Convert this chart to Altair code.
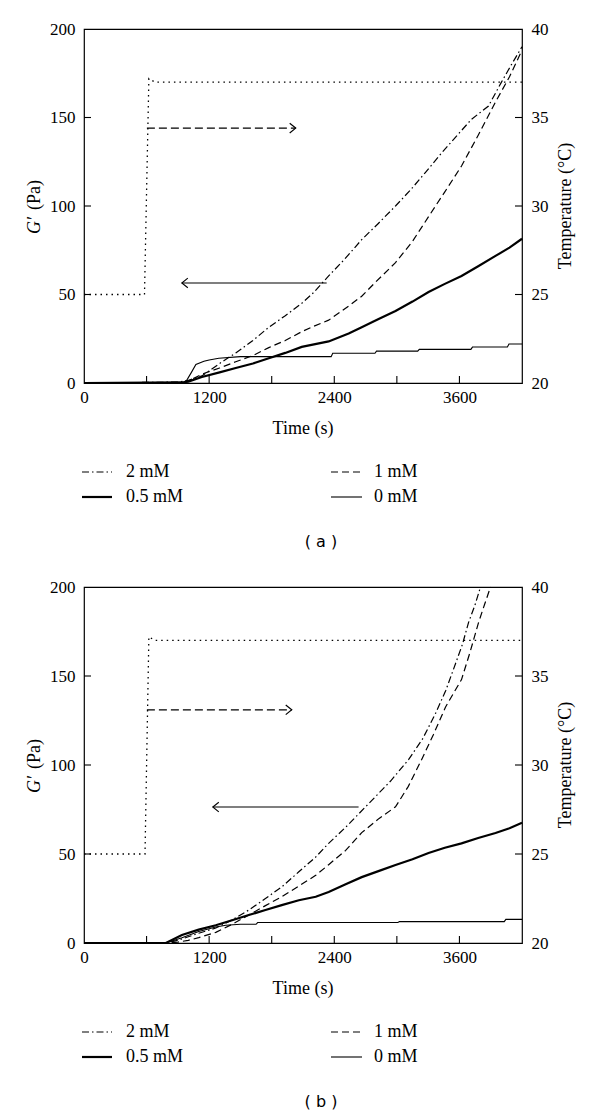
import altair as alt
import pandas as pd

SERIF = "Liberation Serif"
SANS = "DejaVu Sans"
W = 438
H_A = 354
H_B = 356
T_MAX = 4200

# ---- axis / tick values ----
x_tick_labels = [0, 1200, 2400, 3600]
x_minor_ticks = [600, 1200, 1800, 2400, 3000, 3600]
g_tick_labels = [0, 50, 100, 150, 200]
g_minor_ticks = [50, 100, 150]
temp_tick_labels = [20, 25, 30, 35, 40]
temp_minor_ticks = [25, 30, 35]
series_names = ["2 mM", "1 mM", "0.5 mM", "0 mM"]

# ---- panel (a) ----
a_t_2mM = [0, 900, 1000, 1130, 1300, 1455, 1620, 1772, 1930, 2088, 2200, 2346, 2500, 2663, 2820, 2987, 3130, 3275, 3430, 3572, 3716, 3879, 4003, 4100, 4200]
a_g_2mM = [0, 0.5, 1.5, 4, 11, 17, 24, 31.5, 38, 45, 51, 60.5, 70, 81, 90, 100, 109, 119, 130, 139.5, 149, 156.5, 170, 180, 190]
a_t_1mM = [0, 950, 1000, 1130, 1300, 1455, 1620, 1772, 1930, 2088, 2200, 2346, 2538, 2663, 2796, 2987, 3150, 3304, 3460, 3620, 3780, 3946, 4080, 4200]
a_g_1mM = [0, 0.3, 1, 5, 8.5, 12, 15.5, 20, 24, 29, 32, 35.5, 43.5, 49, 57, 68, 80, 94, 108, 122.6, 140, 158.8, 173, 188]
a_t_05mM = [0, 950, 1000, 1130, 1300, 1455, 1620, 1772, 1930, 2088, 2346, 2538, 2663, 2820, 2987, 3150, 3304, 3460, 3620, 3780, 3946, 4080, 4200]
a_g_05mM = [0, 0.3, 0.8, 3.4, 6, 8.5, 11, 14, 17, 20.4, 23.5, 28, 31.5, 36, 40.7, 46, 51.4, 56, 60.5, 66, 71.8, 76.5, 81.5]
a_t_0mM = [0, 950, 985, 1030, 1073, 1150, 1200, 1293, 1500, 2370, 2385, 2790, 2805, 3200, 3215, 3710, 3725, 4060, 4075, 4200]
a_g_0mM = [0, 0.3, 1.5, 6, 10.5, 12.3, 13, 14, 14.9, 14.9, 16.8, 16.8, 18, 18, 19, 19, 20.3, 20.3, 22, 22]
a_temp_t = [0, 580, 622, 680, 4200]
a_temp = [25, 25, 37.2, 37.0, 37.0]
a_arrow_right_t = [603, 2030]
a_arrow_right_g = [144, 144]
a_arrow_left_t = [938, 2327]
a_arrow_left_g = [56.5, 56.5]

# ---- panel (b) ----
b_t_2mM = [0, 785, 900, 1000, 1100, 1264, 1420, 1580, 1740, 1896, 2060, 2222, 2346, 2509, 2758, 2940, 3112, 3250, 3371, 3470, 3563, 3630, 3687, 3750, 3802]
b_g_2mM = [0, 0, 1.5, 3.5, 5.5, 8.4, 13, 18.5, 25, 31.5, 40, 48.3, 56, 65, 80, 91, 103, 115, 129, 142, 157, 168, 180, 190, 200]
b_t_1mM = [0, 785, 900, 1000, 1100, 1264, 1420, 1580, 1740, 1896, 2060, 2222, 2346, 2509, 2663, 2830, 2987, 3110, 3237, 3350, 3467, 3540, 3620, 3700, 3783, 3840, 3898]
b_g_1mM = [0, 0, 0.5, 1.5, 3, 6, 10.5, 15.7, 21, 26, 32, 38, 44, 52, 62, 70, 76.5, 88, 103, 117, 132.6, 140, 148, 163, 180, 190, 200]
b_t_05mM = [0, 785, 939, 1100, 1264, 1420, 1580, 1740, 1896, 2060, 2222, 2346, 2509, 2663, 2830, 2987, 3150, 3304, 3460, 3620, 3780, 3946, 4080, 4200]
b_g_05mM = [0, 0, 4.5, 7.5, 10, 12.8, 15.7, 18.5, 21.3, 24, 26, 28.7, 33, 37, 40.5, 43.8, 47, 50.6, 53.5, 56, 59, 61.8, 64.5, 67.5]
b_t_0mM = [0, 785, 939, 1100, 1264, 1360, 1500, 1650, 1665, 3010, 3025, 4030, 4045, 4200]
b_g_0mM = [0, 0, 3, 6.5, 9, 10, 10.5, 10.5, 11.5, 11.5, 12, 12, 13.3, 13.3]
b_temp_t = [0, 585, 622, 680, 4200]
b_temp = [25, 25, 37.2, 37.0, 37.0]
b_arrow_right_t = [603, 1992]
b_arrow_right_g = [131, 131]
b_arrow_left_t = [1235, 2633]
b_arrow_left_g = [76.4, 76.4]

# ---- styles ----
STYLES = {
    "2 mM": dict(strokeDash=[7, 3, 1.5, 3], strokeWidth=1.2),
    "1 mM": dict(strokeDash=[7, 4], strokeWidth=1.2),
    "0.5 mM": dict(strokeWidth=2.2),
    "0 mM": dict(strokeWidth=1.1),
}
ONE = pd.DataFrame({"k": [0]})
LBL = dict(labelFont=SERIF, labelFontSize=17, labelColor="black", format="d")


def xenc():
    return alt.X("t:Q", scale=alt.Scale(domain=[0, T_MAX], nice=False, zero=False),
                 axis=alt.Axis(values=x_tick_labels, title=None, ticks=False, tickSize=0, domain=False,
                               grid=False, labelPadding=6, labelFlush=False, labelOverlap=False, **LBL))


def genc():
    return alt.Y("g:Q", scale=alt.Scale(domain=[0, 200], nice=False),
                 axis=alt.Axis(values=g_tick_labels, title=None, ticks=False, tickSize=0, domain=False,
                               grid=False, labelPadding=9, labelOverlap=False, labelFlush=False, **LBL))


def tenc():
    return alt.Y("T:Q", scale=alt.Scale(domain=[20, 40], nice=False, zero=False),
                 axis=alt.Axis(orient="right", values=temp_tick_labels, title=None, ticks=False, tickSize=0,
                               domain=False, grid=False, labelPadding=9, labelOverlap=False, labelFlush=False,
                               **LBL))


def txt(s, x, y, **kw):
    return alt.Chart(ONE).mark_text(text=s, color="black", **kw).encode(x=alt.value(x), y=alt.value(y))


def panel(H, curves, temp_t, temp_v, arr_r, arr_l, caption, bottom_marker=None):
    layers = []
    for name, (tt, gg) in zip(series_names, curves):
        df = pd.DataFrame({"t": tt, "g": gg})
        layers.append(alt.Chart(df).mark_line(color="black", **STYLES[name]).encode(x=xenc(), y=genc()))
    # arrows
    dr = pd.DataFrame({"t": arr_r[0], "g": arr_r[1]})
    layers.append(alt.Chart(dr).mark_line(color="black", strokeWidth=1.2, strokeDash=[8, 4]).encode(x=xenc(), y=genc()))
    layers.append(alt.Chart(dr.tail(1)).mark_point(shape="M -1 -0.8 L 0 0 L -1 0.8", filled=False, color="black",
                                                   strokeWidth=1.2, size=144, opacity=1).encode(x=xenc(), y=genc()))
    dl = pd.DataFrame({"t": arr_l[0], "g": arr_l[1]})
    layers.append(alt.Chart(dl).mark_line(color="black", strokeWidth=1.1).encode(x=xenc(), y=genc()))
    layers.append(alt.Chart(dl.head(1)).mark_point(shape="M 1 -0.8 L 0 0 L 1 0.8", filled=False, color="black",
                                                   strokeWidth=1.1, size=144, opacity=1).encode(x=xenc(), y=genc()))
    # inward ticks
    layers.append(alt.Chart(pd.DataFrame({"t": x_minor_ticks})).mark_rule(color="black", strokeWidth=1.1)
                  .encode(x=xenc(), y=alt.value(H), y2=alt.value(H - 7)))
    layers.append(alt.Chart(pd.DataFrame({"g": g_minor_ticks})).mark_rule(color="black", strokeWidth=1.1)
                  .encode(y=genc(), x=alt.value(0), x2=alt.value(7)))
    # titles
    layers.append(txt("G\u2032", -49, H / 2 + 28, font=SERIF, fontSize=18, fontStyle="italic",
                      angle=270, align="left", baseline="middle"))
    layers.append(txt("(Pa)", -49, H / 2 + 4, font=SERIF, fontSize=18, angle=270, align="left", baseline="middle"))
    layers.append(txt("Temperature (\u00b0C)", W + 44, H / 2, font=SERIF, fontSize=18, angle=270,
                      align="center", baseline="middle"))
    layers.append(txt("Time (s)", W / 2, H + 46, font=SERIF, fontSize=18, align="center", baseline="middle"))
    # legend
    cols = [(-2, 28, 42), (247, 278, 290)]
    rows = [H + 89, H + 114]
    for i, name in enumerate(series_names):
        x0, x1, xl = cols[i % 2]
        yy = rows[i // 2]
        layers.append(alt.Chart(ONE).mark_rule(color="black", **STYLES[name])
                      .encode(x=alt.value(x0), x2=alt.value(x1), y=alt.value(yy)))
        layers.append(txt(name, xl, yy, font=SERIF, fontSize=18, align="left", baseline="middle"))
    layers.append(txt(caption, 237, H + 159, font=SANS, fontSize=16, align="center", baseline="middle"))
    # invisible bounds markers
    layers.append(alt.Chart(ONE).mark_rule(color="white", strokeWidth=1)
                  .encode(x=alt.value(-74), x2=alt.value(-73), y=alt.value(-19), y2=alt.value(-18)))
    if bottom_marker is not None:
        layers.append(alt.Chart(ONE).mark_rule(color="white", strokeWidth=1)
                      .encode(x=alt.value(-74), x2=alt.value(-73), y=alt.value(bottom_marker - 1),
                              y2=alt.value(bottom_marker)))
    left = alt.layer(*layers)

    dtemp = pd.DataFrame({"t": temp_t, "T": temp_v})
    right = alt.layer(
        alt.Chart(dtemp).mark_line(color="black", strokeWidth=1.3, strokeDash=[1.5, 4]).encode(x=xenc(), y=tenc()),
        alt.Chart(pd.DataFrame({"T": temp_minor_ticks})).mark_rule(color="black", strokeWidth=1.1)
        .encode(y=tenc(), x=alt.value(W - 7), x2=alt.value(W)),
    )
    return alt.layer(left, right).resolve_scale(y="independent").properties(width=W, height=H)


pa = panel(H_A,
           [(a_t_2mM, a_g_2mM), (a_t_1mM, a_g_1mM), (a_t_05mM, a_g_05mM), (a_t_0mM, a_g_0mM)],
           a_temp_t, a_temp, (a_arrow_right_t, a_arrow_right_g), (a_arrow_left_t, a_arrow_left_g),
           "( a )", bottom_marker=535)
pb = panel(H_B,
           [(b_t_2mM, b_g_2mM), (b_t_1mM, b_g_1mM), (b_t_05mM, b_g_05mM), (b_t_0mM, b_g_0mM)],
           b_temp_t, b_temp, (b_arrow_right_t, b_arrow_right_g), (b_arrow_left_t, b_arrow_left_g),
           "( b )")

chart = (alt.vconcat(pa, pb, spacing=0)
         .properties(padding=0, background="white")
         .configure_view(stroke="black", strokeWidth=1.2)
         .configure_axis(labelFont=SERIF, labelFontSize=17, labelColor="black"))

chart.save("out.html", embed_options={"renderer": "svg", "actions": False})
